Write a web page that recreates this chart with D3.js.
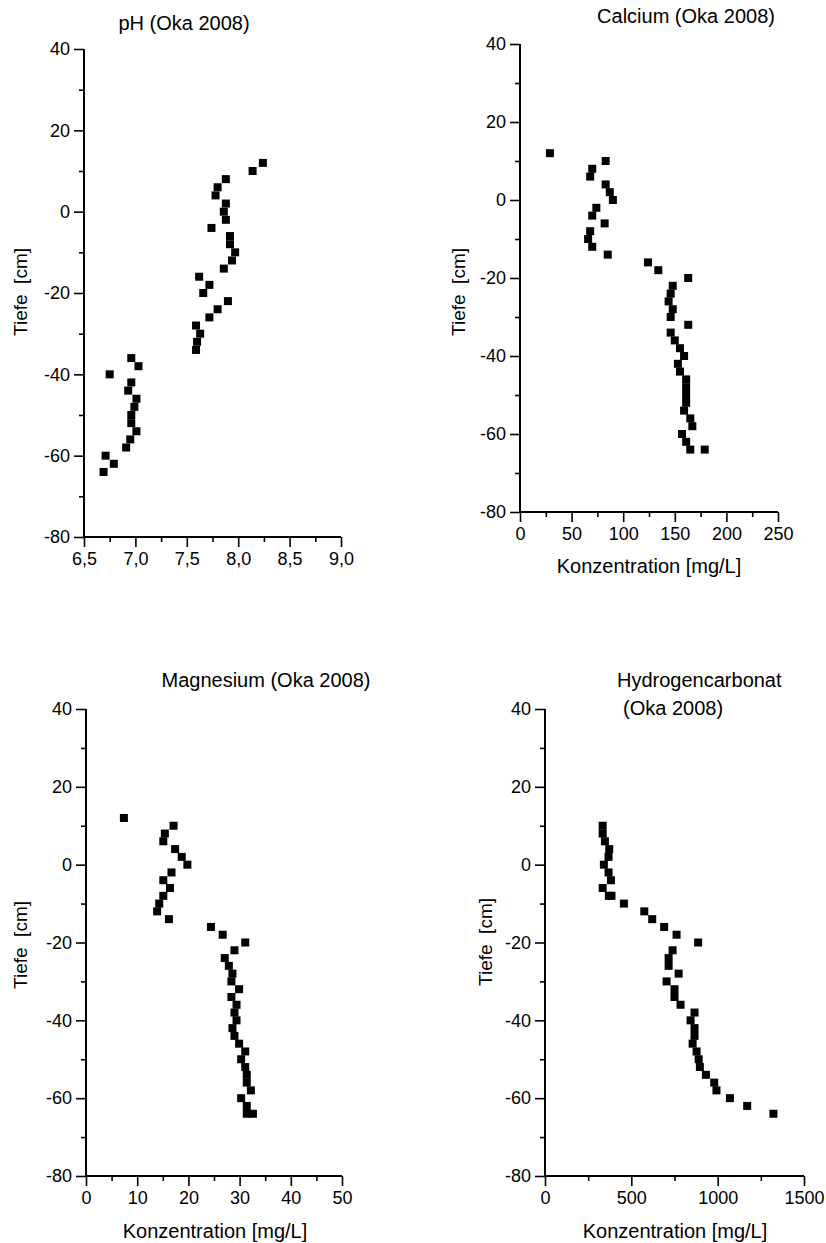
<!DOCTYPE html>
<html><head><meta charset="utf-8">
<script src="https://cdn.jsdelivr.net/npm/d3@7/dist/d3.min.js"></script>
<style>body{margin:0;background:#fff}svg{display:block}text{font-family:"Liberation Sans",Arial,sans-serif;fill:#000}</style>
</head><body>
<script>
// ---- data ----
const phDepth = [12,10,8,6,4,2,0,-2,-4,-6,-8,-10,-12,-14,-16,-18,-20,-22,-24,-26,-28,-30,-32,-34,-36,-38,-40,-42,-44,-46,-48,-50,-52,-54,-56,-58,-60,-62,-64];
const phValue = [8.24,8.14,7.88,7.80,7.78,7.88,7.86,7.88,7.74,7.92,7.92,7.97,7.94,7.86,7.62,7.72,7.66,7.90,7.80,7.72,7.59,7.63,7.60,7.59,6.96,7.03,6.75,6.96,6.93,7.01,6.99,6.96,6.96,7.01,6.95,6.91,6.71,6.79,6.69];

const caDepth = [12,10,8,6,4,2,0,-2,-4,-6,-8,-10,-12,-14,-16,-18,-20,-22,-24,-26,-28,-30,-32,-34,-36,-38,-40,-42,-44,-46,-48,-50,-52,-54,-56,-58,-60,-62,-64,-64];
const caValue = [29,83,70,68,83,87,90,74,70,82,68,66,70,85,124,134,163,148,146,144,148,146,163,146,150,155,159,153,155,161,161,161,161,159,165,167,157,161,165,179];

const mgDepth = [12,10,8,6,4,2,0,-2,-4,-6,-8,-10,-12,-14,-16,-18,-20,-22,-24,-26,-28,-30,-32,-34,-36,-38,-40,-42,-44,-46,-48,-50,-52,-54,-56,-58,-60,-62,-64,-64];
const mgValue = [7.4,17.1,15.4,15.1,17.4,18.7,19.8,16.7,15.1,16.4,15.1,14.3,13.9,16.2,24.4,26.7,31.1,29.0,27.1,27.9,28.6,28.4,29.9,28.4,29.4,29.0,29.4,28.6,29.0,29.9,31.1,30.3,31.1,31.4,31.4,32.2,30.3,31.4,31.4,32.6];

const hcDepth = [10,8,6,4,2,0,-2,-4,-6,-8,-8,-10,-12,-14,-16,-18,-20,-22,-24,-26,-28,-30,-32,-34,-36,-38,-40,-42,-44,-46,-48,-50,-52,-54,-56,-58,-60,-62,-64];
const hcValue = [334,334,347,372,368,341,368,382,334,370,385,457,575,621,690,762,887,739,716,716,774,704,750,750,785,866,843,866,866,855,878,890,897,932,980,993,1071,1171,1323];

const depthTicks = [40,20,0,-20,-40,-60,-80];
const depthMinor = [30,10,-10,-30,-50,-70];
const phTicks = [6.5,7.0,7.5,8.0,8.5,9.0];
const caTicks = [0,50,100,150,200,250];
const mgTicks = [0,10,20,30,40,50];
const hcTicks = [0,500,1000,1500];

const titles = ["pH (Oka 2008)","Calcium (Oka 2008)","Magnesium (Oka 2008)","Hydrogencarbonat"];
const yTitle = "Tiefe  [cm]";
const xTitle = "Konzentration [mg/L]";

// ---- drawing ----
const W = 826, H = 1243;
const svg = d3.select("body").append("svg").attr("width", W).attr("height", H);

const panels = [
  {depth: phDepth, val: phValue, dom:[6.5,9], ticks: phTicks, minorStep: 0.25, fmt: d => d3.format(".1f")(d).replace(".", ","),
   x0:84, x1:341, yT:49, yB:537, title:{x:184, y:30}, yt:{x:27, y:292}, xt:null},
  {depth: caDepth, val: caValue, dom:[0,250], ticks: caTicks, minorStep: 25, fmt: d => String(d),
   x0:520, x1:778, yT:44, yB:512, title:{x:686, y:23}, yt:{x:465, y:292}, xt:{x:649, y:573}},
  {depth: mgDepth, val: mgValue, dom:[0,50], ticks: mgTicks, minorStep: 5, fmt: d => String(d),
   x0:86, x1:342, yT:709, yB:1176, title:{x:266, y:687}, yt:{x:27, y:945}, xt:{x:215, y:1238}},
  {depth: hcDepth, val: hcValue, dom:[0,1500], ticks: hcTicks, minorStep: 250, fmt: d => String(d),
   x0:545, x1:804, yT:709, yB:1176, title:null, yt:{x:492, y:942}, xt:{x:675, y:1238}}
];

panels.forEach((p, i) => {
  const x = d3.scaleLinear().domain(p.dom).range([p.x0, p.x1]);
  const y = d3.scaleLinear().domain([-80, 40]).range([p.yB, p.yT]);
  const g = svg.append("g");

  // y axis
  const ya = g.append("g").attr("transform", `translate(${p.x0},0)`)
    .call(d3.axisLeft(y).tickValues(depthTicks).tickFormat(d => String(d)).tickSize(10).tickPadding(4));
  ya.select(".domain").remove();
  ya.selectAll(".tick line").attr("stroke", "#000").attr("stroke-width", 1.6);
  ya.selectAll(".tick text").attr("font-size", 18).attr("font-family", "Liberation Sans, Arial, sans-serif").attr("fill", "#000");
  const ym = g.append("g").attr("transform", `translate(${p.x0},0)`)
    .call(d3.axisLeft(y).tickValues(depthMinor).tickFormat("").tickSize(5));
  ym.select(".domain").remove();
  ym.selectAll(".tick line").attr("stroke", "#000").attr("stroke-width", 1.6);

  // x axis
  const xa = g.append("g").attr("transform", `translate(0,${p.yB})`)
    .call(d3.axisBottom(x).tickValues(p.ticks).tickFormat(p.fmt).tickSize(10).tickPadding(5));
  xa.select(".domain").remove();
  xa.selectAll(".tick line").attr("stroke", "#000").attr("stroke-width", 1.6);
  xa.selectAll(".tick text").attr("font-size", 18).attr("font-family", "Liberation Sans, Arial, sans-serif").attr("fill", "#000");
  const minors = d3.range(p.dom[0] + p.minorStep, p.dom[1], p.minorStep * 2);
  const xm = g.append("g").attr("transform", `translate(0,${p.yB})`)
    .call(d3.axisBottom(x).tickValues(minors).tickFormat("").tickSize(5));
  xm.select(".domain").remove();
  xm.selectAll(".tick line").attr("stroke", "#000").attr("stroke-width", 1.6);

  // axis lines
  g.append("line").attr("x1", p.x0).attr("x2", p.x0).attr("y1", p.yT).attr("y2", p.yB).attr("stroke", "#000").attr("stroke-width", 2);
  g.append("line").attr("x1", p.x0).attr("x2", p.x1).attr("y1", p.yB).attr("y2", p.yB).attr("stroke", "#000").attr("stroke-width", 2);

  // points
  const s = 8;
  g.selectAll("rect.pt").data(p.val.map((v, k) => ({v, d: p.depth[k]})))
    .enter().append("rect").attr("class", "pt")
    .attr("x", d => x(d.v) - s/2).attr("y", d => y(d.d) - s/2)
    .attr("width", s).attr("height", s).attr("fill", "#000");

  // titles
  if (p.title) {
    g.append("text").attr("x", p.title.x).attr("y", p.title.y).attr("text-anchor", "middle")
      .attr("font-size", 20).text(titles[i]);
  }
  if (p.xt) {
    g.append("text").attr("x", p.xt.x).attr("y", p.xt.y).attr("text-anchor", "middle")
      .attr("font-size", 20).text(xTitle);
  }
  g.append("text").attr("transform", `translate(${p.yt.x},${p.yt.y}) rotate(-90)`)
    .attr("text-anchor", "middle").attr("font-size", 19).attr("xml:space", "preserve").style("white-space", "pre").text(yTitle);
});

// two-line title of the 4th panel
svg.append("text").attr("x", 617).attr("y", 687).attr("font-size", 20).text(titles[3]);
svg.append("text").attr("x", 623).attr("y", 715).attr("font-size", 20).text("(Oka 2008)");
</script>
</body></html>
